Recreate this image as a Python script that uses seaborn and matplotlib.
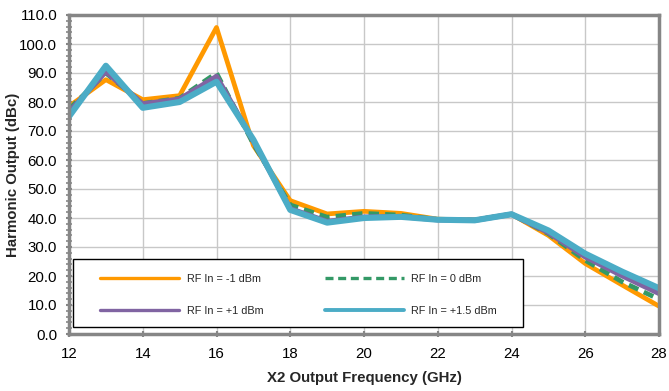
import numpy as np
import pandas as pd
import matplotlib
matplotlib.use("Agg")
import matplotlib.pyplot as plt
from matplotlib.ticker import MultipleLocator, FormatStrFormatter
from matplotlib.lines import Line2D
from matplotlib.patches import Rectangle
import seaborn as sns

freq = [12, 13, 14, 15, 16, 17, 18, 19, 20, 21, 22, 23, 24, 25, 26, 27, 28]
rf_m1 = [78.5, 87.7, 80.8, 82.2, 105.7, 65.0, 46.0, 41.4, 42.3, 41.6, 39.6, 39.3, 41.3, 34.0, 24.3, 16.9, 9.6]
rf_0 = [77.5, 90.0, 79.5, 81.3, 90.0, 65.5, 44.5, 40.3, 41.6, 41.0, 39.5, 39.3, 41.3, 34.6, 25.4, 18.0, 12.0]
rf_p1 = [76.5, 90.5, 79.3, 81.0, 88.8, 66.5, 43.2, 38.8, 40.3, 40.5, 39.4, 39.2, 41.3, 35.0, 26.6, 20.1, 14.0]
rf_p15 = [75.0, 92.5, 78.0, 80.0, 87.0, 67.0, 42.8, 38.4, 40.0, 40.4, 39.4, 39.2, 41.3, 35.7, 27.7, 21.5, 15.8]
labels = ["RF In = -1 dBm", "RF In = 0 dBm", "RF In = +1 dBm", "RF In = +1.5 dBm"]

sns.set_theme(style="white")
plt.rcParams['font.family'] = ['Liberation Sans', 'DejaVu Sans']

L, R, T, B = 69, 659, 15, 334
fig = plt.figure(figsize=(6.69, 3.91), dpi=100)
ax = fig.add_axes([L/669, 1-B/391, (R-L)/669, (B-T)/391])
W, H = R - L, B - T

styles = [
    dict(color="#FF9900", lw=3.4, ls="-"),
    dict(color="#339966", lw=3.4, ls=(0, (2.2, 1.3))),
    dict(color="#8064A2", lw=3.8, ls="-"),
    dict(color="#4BACC6", lw=4.4, ls="-"),
]
series = [rf_m1, rf_0, rf_p1, rf_p15]
for vals, lab, st in zip(series, labels, styles):
    df = pd.DataFrame({"freq": freq, "val": vals})
    sns.lineplot(data=df, x="freq", y="val", ax=ax, color=st["color"],
                 linewidth=st["lw"], linestyle=st["ls"], legend=False)

ax.set_xlim(12, 28)
ax.set_ylim(0, 110)
ax.xaxis.set_major_locator(MultipleLocator(2))
ax.yaxis.set_major_locator(MultipleLocator(10))
ax.yaxis.set_minor_locator(MultipleLocator(2))
ax.yaxis.set_major_formatter(FormatStrFormatter("%.1f"))
ax.grid(True, which="major", color="#C8C8C8", lw=1.0)
ax.set_axisbelow(True)
for s in ax.spines.values():
    s.set_color("#868686")
    s.set_linewidth(2.5)
ax.tick_params(axis="both", which="major", direction="inout", length=5, width=1.5,
               color="#868686", labelsize=10.8, labelcolor="black")
ax.tick_params(axis="y", which="major", pad=6)
ax.tick_params(axis="x", which="major", pad=7)
ax.tick_params(axis="y", which="minor", direction="inout", length=4, width=1.2,
               color="#868686", left=True)
ax.tick_params(axis="x", bottom=True)
ax.tick_params(axis="y", left=True)

ax.set_xlabel("X2 Output Frequency (GHz)", fontsize=10.8, fontweight="bold", labelpad=7)
ax.set_ylabel("Harmonic Output (dBc)", fontsize=10.8, fontweight="bold")
ax.yaxis.set_label_coords((20 - L)/W, 0.5)

# legend box
box = Rectangle((4/W, 7/H), 450/W, 68/H, transform=ax.transAxes,
                facecolor="white", edgecolor="black", lw=1.0, zorder=5)
ax.add_patch(box)

leg_styles = [
    dict(color="#FF9900", lw=2.4, ls="-"),
    dict(color="#339966", lw=2.4, ls=(0, (2.4, 1.4))),
    dict(color="#8064A2", lw=2.4, ls="-"),
    dict(color="#4BACC6", lw=2.8, ls="-"),
]
hs = [Line2D([], [], color=s["color"], lw=s["lw"], ls=s["ls"]) for s in leg_styles]
order = [0, 2, 1, 3]
leg = ax.legend(handles=[hs[i] for i in order], labels=[labels[i] for i in order],
                ncol=2, loc="upper left",
                bbox_to_anchor=((100-L)/W, (B-274)/H),
                fontsize=7.8, handlelength=7.3, handletextpad=0.7,
                labelspacing=2.0, columnspacing=5.65, borderpad=0, frameon=False,
                borderaxespad=0)
leg.set_zorder(6)

fig.savefig("out.png", dpi=100)
